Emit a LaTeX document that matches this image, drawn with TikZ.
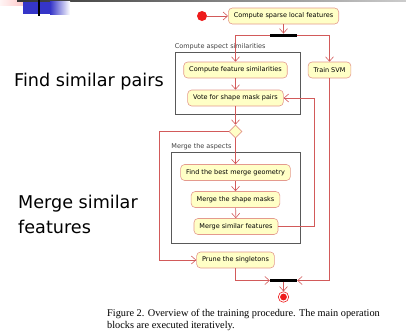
\documentclass[tikz,border=0pt]{standalone}
\usepackage{fontspec}
\setmainfont{Liberation Serif}
\newfontfamily\dejavu{DejaVu Sans}
\usepackage{xcolor}
\usepackage{tikz}
\usetikzlibrary{positioning, arrows.meta, calc, shapes.geometric}

\definecolor{actfill}{HTML}{FFFFC6}
\definecolor{actline}{HTML}{E49A8E}
\definecolor{flowline}{HTML}{D25A5A}
\definecolor{startred}{HTML}{EE1C1C}
\definecolor{slideblue}{HTML}{3535C8}

\begin{document}
\begin{tikzpicture}[ x = 1pt, y = -1pt
                     , font = \dejavu\fontsize{6.5}{7.5}\selectfont
                     , >={Straight Barb[length=4.5pt, width=8pt]}
                     , activity/.style = { rectangle
                                         , rounded corners = 4pt
                                         , draw = actline
                                         , fill = actfill
                                         , line width = 0.6pt
                                         , inner xsep = 5.5pt
                                         , inner ysep = 0pt
                                         , minimum height = 16pt }
                     , syncbar/.style = { rectangle, fill = black, inner sep = 0pt
                                        , minimum width = 27pt, minimum height = 3.5pt }
                     , group/.style = { rectangle, draw = black!65, line width = 0.6pt
                                      , inner sep = 0pt }
                     , grouplabel/.style = { anchor = south west, inner xsep = 0pt
                                           , inner ysep = 1.5pt, text = black!75 }
                     , flow/.style = { draw = flowline, line width = 0.6pt, ->}
                     , slidetext/.style = { font = \dejavu\fontsize{17.6}{25}\selectfont
                                          , align = left, inner sep = 0pt }
                     ]

  \useasboundingbox (0,0) rectangle (406,335);

  % slide decoration
  \shade[left color = red!4, right color = red!28] (0,0) rectangle (33,5);
  \shade[left color = black!80, right color = black!20] (17,0) rectangle (406,1.7);
  \fill[slideblue] (23,1.7) rectangle (50,14);
  \shade[left color = slideblue, right color = white] (50,1.7) rectangle (70,14);
  \fill[black] (38,0) rectangle (40,16);

  % slide text
  \node (pairs) [slidetext, anchor = base west] at (14,86.5) {Find similar pairs};
  \node (merging) [slidetext, anchor = base west] at (18,233) {Merge similar\\features};

  % groups
  \node (simgroup) [group, minimum width = 125pt, minimum height = 62.5pt] at (237.5,83.5) {};
  \node [grouplabel] at (simgroup.north west) {Compute aspect similarities};
  \node (mergegroup) [group, minimum width = 129pt, minimum height = 91pt] at (236,197.5) {};
  \node [grouplabel] at (mergegroup.north west) {Merge the aspects};

  % activities
  \node (start) [circle, fill = startred, inner sep = 0pt, minimum size = 10pt] at (202,16) {};
  \node (sparse) [activity] at (283.5,16) {Compute sparse local features};
  \node (fork) [syncbar] at (283.5,35.5) {};
  \node (featsim) [activity] at (235.5,70) {Compute feature similarities};
  \node (svm) [activity] at (329.5,70) {Train SVM};
  \node (vote) [activity] at (235.5,98) {Vote for shape mask pairs};
  \node (decide) [diamond, draw = actline, fill = actfill, line width = 0.6pt,
                  inner sep = 0pt, minimum size = 13pt] at (235.5,131.5) {};
  \node (bestgeo) [activity] at (235.5,172.5) {Find the best merge geometry};
  \node (masks) [activity] at (235.5,199.5) {Merge the shape masks};
  \node (mergefeat) [activity] at (236,226.5) {Merge similar features};
  \node (prune) [activity] at (235.5,260) {Prune the singletons};
  \node (join) [syncbar] at (283.5,280.5) {};
  \node (stop) [circle, draw = startred, fill = white, line width = 0.6pt,
                inner sep = 0pt, minimum size = 10.5pt] at (283.5,297) {};
  \fill[startred] (stop.center) circle (3.4pt);

  \coordinate (loopx) at (314.5,0);
  \coordinate (bypass) at (159.5,200);

  % flows
  \draw[flow] (start) -- (sparse);
  \draw[flow] (sparse) -- (fork);
  \draw[flow] (fork.west) -| (featsim);
  \draw[flow] (fork.east) -| (svm);
  \draw[flow] (featsim) -- (vote);
  \draw[flow] (vote) -- (decide);
  \draw[flow] (decide) -- (bestgeo);
  \draw[flow] (bestgeo) -- (masks);
  \draw[flow] (masks) -- (mergefeat);
  \draw[flow] (mergefeat.east) -- (mergefeat.east -| loopx) |- (vote.east);
  \draw[flow] (decide.west) -| (bypass) |- (prune.west);
  \draw[flow] (svm) |- (join.east);
  \draw[flow] (prune) |- (join.west);
  \draw[flow] (join) -- (stop);

  % caption
  \node (caption) [anchor = base west, align = left, inner sep = 0pt,
                   font = \rmfamily\fontsize{10.3}{11.6}\selectfont] at (107,328)
  {Figure 2. Overview of the training procedure. The main operation\\blocks are executed iteratively.};

\end{tikzpicture}
\end{document}
